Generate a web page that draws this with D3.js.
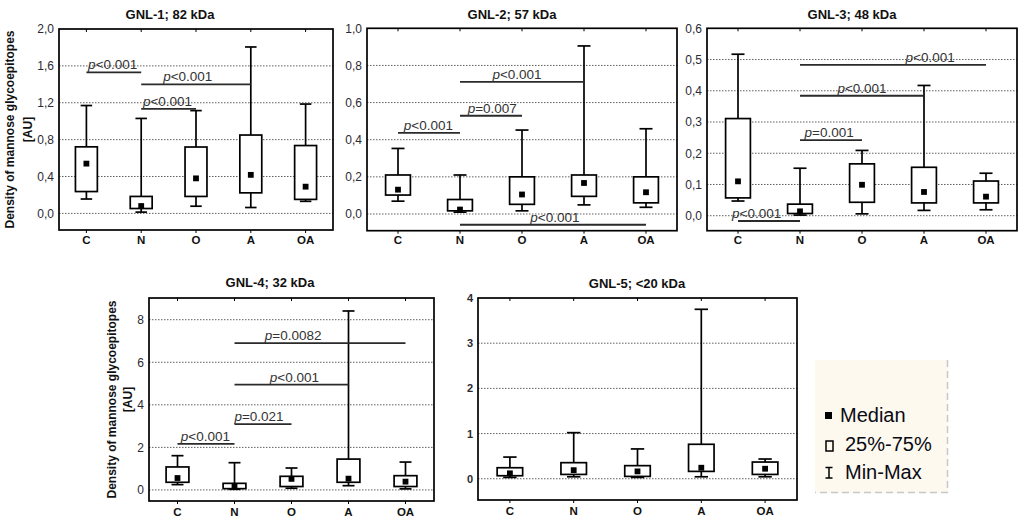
<!DOCTYPE html>
<html>
<head>
<meta charset="utf-8">
<script src="https://cdn.jsdelivr.net/npm/d3@7"></script>
<style>
  body { margin: 0; background: #fff; }
  svg { display: block; font-family: "Liberation Sans", Arial, sans-serif; }
</style>
</head>
<body>
<div id="chart"></div>
<script>
(function() {

  var categories = ["C", "N", "O", "A", "OA"];

  // [min, q1, median, q3, max] per category
  var gnl1 = [[0.156, 0.237, 0.54, 0.722, 1.17],
              [0.014, 0.053, 0.08, 0.184, 1.03],
              [0.078, 0.184, 0.38, 0.72, 1.115],
              [0.064, 0.223, 0.418, 0.85, 1.805],
              [0.131, 0.152, 0.29, 0.736, 1.186]];
  var gnl2 = [[0.069, 0.102, 0.131, 0.21, 0.353],
              [0.01, 0.017, 0.024, 0.078, 0.21],
              [0.017, 0.052, 0.105, 0.2, 0.452],
              [0.049, 0.095, 0.167, 0.21, 0.905],
              [0.036, 0.06, 0.117, 0.2, 0.459]];
  var gnl3 = [[0.047, 0.057, 0.110, 0.311, 0.517],
              [0.002, 0.007, 0.014, 0.037, 0.152],
              [0.006, 0.043, 0.099, 0.166, 0.209],
              [0.017, 0.041, 0.076, 0.155, 0.417],
              [0.019, 0.041, 0.061, 0.111, 0.136]];
  var gnl4 = [[0.25, 0.36, 0.56, 1.08, 1.61],
              [0.03, 0.06, 0.19, 0.31, 1.28],
              [0.08, 0.16, 0.52, 0.64, 1.03],
              [0.2, 0.36, 0.53, 1.45, 8.41],
              [0.05, 0.16, 0.39, 0.67, 1.31]];
  var gnl5 = [[0.03, 0.067, 0.12, 0.244, 0.48],
              [0.044, 0.096, 0.19, 0.356, 1.02],
              [0.03, 0.052, 0.163, 0.29, 0.66],
              [0.044, 0.163, 0.244, 0.763, 3.75],
              [0.044, 0.096, 0.222, 0.37, 0.437]];

  // significance bars: [from, to, level, label]
  var gnl1Sig = [["C", "N", 1.53, "<0.001"],
                 ["N", "A", 1.40, "<0.001"],
                 ["N", "O", 1.133, "<0.001"]];
  var gnl2Sig = [["C", "N", 0.437, "<0.001"],
                 ["N", "O", 0.529, "=0.007"],
                 ["N", "A", 0.711, "<0.001"],
                 ["N", "OA", -0.058, "<0.001"]];
  var gnl3Sig = [["C", "N", -0.017, "<0.001"],
                 ["N", "O", 0.242, "=0.001"],
                 ["N", "A", 0.384, "<0.001"],
                 ["N", "OA", 0.483, "<0.001"]];
  var gnl4Sig = [["C", "N", 2.16, "<0.001"],
                 ["N", "O", 3.09, "=0.021"],
                 ["N", "A", 4.95, "<0.001"],
                 ["N", "OA", 6.9, "=0.0082"]];

  // where each p label sits, in category units (0 = C)
  var gnl1At = [0.48, 1.85, 1.48];
  var gnl2At = [0.49, 1.52, 1.92, 2.53];
  var gnl3At = [0.3, 1.47, 2.0, 3.1];
  var gnl4At = [0.49, 1.43, 2.05, 2.03];

  var gnl1Ticks = [0, 0.4, 0.8, 1.2, 1.6, 2.0],
      gnl2Ticks = [0, 0.2, 0.4, 0.6, 0.8, 1.0],
      gnl3Ticks = [0, 0.1, 0.2, 0.3, 0.4, 0.5, 0.6],
      gnl4Ticks = [0, 2, 4, 6, 8],
      gnl5Ticks = [0, 1, 2, 3, 4];

  var legendItems = ["Median", "25%-75%", "Min-Max"];
  var yLabel = ["Density of mannose glycoepitopes", "[AU]"];

  var comma = d3.formatLocale({decimal: ",", thousands: ".", grouping: [3], currency: ["", ""]});

  var panels = [
    {title: "GNL-1; 82 kDa", stats: gnl1, sig: gnl1Sig, at: gnl1At, ticks: gnl1Ticks, fmt: comma.format(".1f"),
     x0: 59, x1: 333, y0: 29, y1: 230, domain: [-0.18, 2.0], titleX: 170, titleY: 18.5, catY: 244, ylab: [14, 32], tickBold: false},
    {title: "GNL-2; 57 kDa", stats: gnl2, sig: gnl2Sig, at: gnl2At, ticks: gnl2Ticks, fmt: comma.format(".1f"),
     x0: 367, x1: 677, y0: 28.3, y1: 230.7, domain: [-0.09, 1.0], titleX: 512, titleY: 18.5, catY: 244, tickBold: false},
    {title: "GNL-3; 48 kDa", stats: gnl3, sig: gnl3Sig, at: gnl3At, ticks: gnl3Ticks, fmt: comma.format(".1f"),
     x0: 707, x1: 1017, y0: 28.3, y1: 230.7, domain: [-0.048, 0.6], titleX: 852, titleY: 18.5, catY: 244, tickBold: false},
    {title: "GNL-4; 32 kDa", stats: gnl4, sig: gnl4Sig, at: gnl4At, ticks: gnl4Ticks, fmt: d3.format("d"),
     x0: 149, x1: 434, y0: 298, y1: 501, domain: [-0.52, 9.02], titleX: 270, titleY: 286.5, catY: 515.5, ylab: [116, 132], tickBold: false},
    {title: "GNL-5; <20 kDa", stats: gnl5, sig: [], at: [], ticks: gnl5Ticks, fmt: d3.format("d"),
     x0: 478, x1: 797, y0: 298, y1: 500, domain: [-0.47, 4], titleX: 637, titleY: 287.5, catY: 514.5, tickBold: true}
  ];

  var svg = d3.select("#chart").append("svg")
      .attr("width", 1024)
      .attr("height", 522);

  panels.forEach(function(p) {
    var x = d3.scaleBand().domain(categories).range([p.x0, p.x1]).padding(0),
        y = d3.scaleLinear().domain(p.domain).range([p.y1, p.y0]),
        bw = x.bandwidth(),
        cx = function(c) { return x(c) + bw / 2; },
        g = svg.append("g");

    // grid
    g.selectAll(".grid").data(p.ticks.filter(function(t) { return y(t) > p.y0 + 1; }))
      .enter().append("line")
        .attr("x1", p.x0).attr("x2", p.x1)
        .attr("y1", function(t) { return y(t); })
        .attr("y2", function(t) { return y(t); })
        .attr("stroke", "#5f5f5f")
        .attr("stroke-width", 1)
        .attr("stroke-dasharray", "1.5,1.5");

    // y tick labels
    g.selectAll(".tick").data(p.ticks)
      .enter().append("text")
        .attr("x", p.x0 - 5)
        .attr("y", function(t) { return y(t); })
        .attr("dy", "0.36em")
        .attr("text-anchor", "end")
        .attr("font-size", p.tickBold ? 11 : 12)
        .attr("font-weight", p.tickBold ? "bold" : "normal")
        .attr("fill", "#2a2a32")
        .text(p.fmt);

    // category ticks + labels
    g.selectAll(".ct").data(categories)
      .enter().append("path")
        .attr("d", function(c) {
          return "M" + cx(c) + "," + p.y0 + "v3M" + cx(c) + "," + p.y1 + "v3";
        })
        .attr("stroke", "#000").attr("stroke-width", 1);

    g.selectAll(".cl").data(categories)
      .enter().append("text")
        .attr("x", cx)
        .attr("y", p.catY)
        .attr("text-anchor", "middle")
        .attr("font-size", 11.5)
        .attr("font-weight", "bold")
        .attr("fill", "#111")
        .text(function(c) { return c; });

    // whiskers
    var box = g.selectAll(".box").data(p.stats).enter().append("g");
    box.append("line")
        .attr("x1", function(d, i) { return cx(categories[i]); })
        .attr("x2", function(d, i) { return cx(categories[i]); })
        .attr("y1", function(d) { return y(d[0]); })
        .attr("y2", function(d) { return y(d[4]); })
        .attr("stroke", "#000").attr("stroke-width", 1.7);
    [0, 4].forEach(function(k) {
      box.append("line")
          .attr("x1", function(d, i) { return cx(categories[i]) - bw * 0.105; })
          .attr("x2", function(d, i) { return cx(categories[i]) + bw * 0.105; })
          .attr("y1", function(d) { return y(d[k]); })
          .attr("y2", function(d) { return y(d[k]); })
          .attr("stroke", "#000").attr("stroke-width", 1.7);
    });
    box.append("rect")
        .attr("x", function(d, i) { return cx(categories[i]) - bw * 0.2; })
        .attr("width", bw * 0.4)
        .attr("y", function(d) { return y(d[3]); })
        .attr("height", function(d) { return y(d[1]) - y(d[3]); })
        .attr("fill", "#fff")
        .attr("stroke", "#000").attr("stroke-width", 1.7);
    box.append("rect")
        .attr("x", function(d, i) { return cx(categories[i]) - 2.9; })
        .attr("y", function(d) { return y(d[2]) - 2.9; })
        .attr("width", 5.8).attr("height", 5.8)
        .attr("fill", "#000");

    // significance bars
    p.sig.forEach(function(s, i) {
      var ly = y(s[2]);
      g.append("line")
          .attr("x1", cx(s[0])).attr("x2", cx(s[1]))
          .attr("y1", ly).attr("y2", ly)
          .attr("stroke", "#2a2a2a").attr("stroke-width", 1.8);
      var t = g.append("text")
          .attr("x", cx(categories[0]) + p.at[i] * bw)
          .attr("y", ly - 3)
          .attr("text-anchor", "middle")
          .attr("font-size", 13.5)
          .attr("fill", "#333");
      t.append("tspan").attr("font-style", "italic").text("p");
      t.append("tspan").text(s[3]);
    });

    // frame
    g.append("rect")
        .attr("x", p.x0).attr("y", p.y0)
        .attr("width", p.x1 - p.x0).attr("height", p.y1 - p.y0)
        .attr("fill", "none")
        .attr("stroke", "#000").attr("stroke-width", 1.7);

    // title
    g.append("text")
        .attr("x", p.titleX).attr("y", p.titleY)
        .attr("text-anchor", "middle")
        .attr("font-size", 13)
        .attr("font-weight", "bold")
        .attr("fill", "#111")
        .text(p.title);

    // y axis label
    if (p.ylab) {
      var cy = (p.y0 + p.y1) / 2;
      yLabel.forEach(function(l, k) {
        g.append("text")
            .attr("transform", "translate(" + p.ylab[k] + "," + cy + ")rotate(-90)")
            .attr("text-anchor", "middle")
            .attr("font-size", 12)
            .attr("font-weight", "bold")
            .attr("fill", "#111")
            .text(l);
      });
    }
  });

  // legend
  var lg = svg.append("g");
  lg.append("rect")
      .attr("x", 815).attr("y", 360)
      .attr("width", 133).attr("height", 133)
      .attr("fill", "#fdf9ef");
  lg.append("path")
      .attr("d", "M947.5,360V492.5H815")
      .attr("fill", "none")
      .attr("stroke", "#c8c8c8")
      .attr("stroke-width", 1.5)
      .attr("stroke-dasharray", "7,4");

  lg.append("rect").attr("x", 825).attr("y", 412).attr("width", 7).attr("height", 7).attr("fill", "#000");
  lg.append("rect").attr("x", 826).attr("y", 441).attr("width", 7).attr("height", 10)
      .attr("fill", "none").attr("stroke", "#000").attr("stroke-width", 1.5);
  lg.append("path").attr("d", "M825.5,467.5h7M829,467.5v10.5M825.5,478h7")
      .attr("fill", "none").attr("stroke", "#000").attr("stroke-width", 1.5);

  lg.selectAll(".li").data(legendItems)
    .enter().append("text")
      .attr("x", function(d, i) { return i === 0 ? 840 : 845; })
      .attr("y", function(d, i) { return [421.5, 450.5, 478.5][i]; })
      .attr("font-size", 20)
      .attr("fill", "#0a0a14")
      .text(function(d) { return d; });

})();
</script>
</body>
</html>
